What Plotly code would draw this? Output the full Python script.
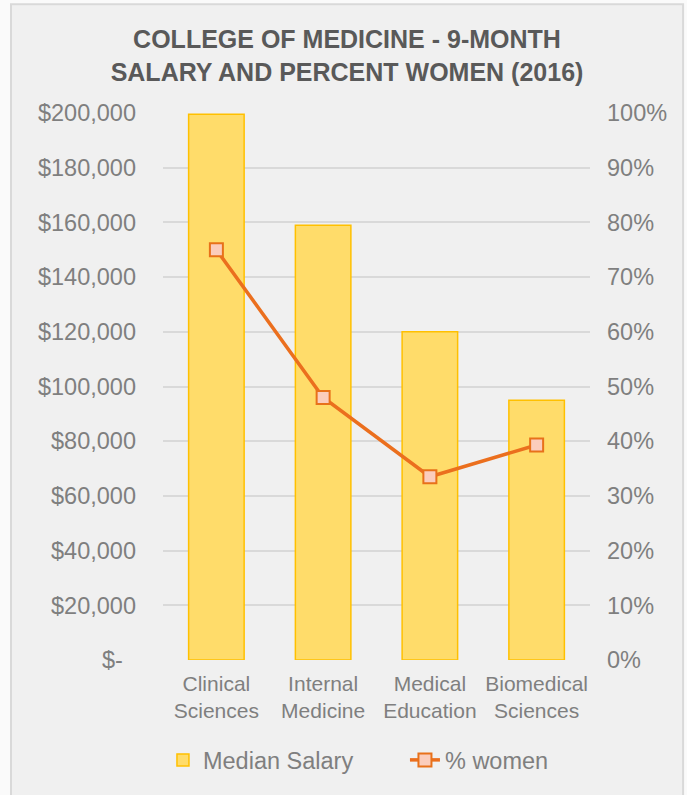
import plotly.graph_objects as go

categories = ["Clinical<br>Sciences", "Internal<br>Medicine", "Medical<br>Education", "Biomedical<br>Sciences"]
median_salary = [199500, 159000, 120000, 95000]
pct_women = [0.75, 0.48, 0.335, 0.393]
left_tickvals = [0, 20000, 40000, 60000, 80000, 100000, 120000, 140000, 160000, 180000, 200000]
left_ticktext = ["$-\u00a0\u00a0", "$20,000", "$40,000", "$60,000", "$80,000", "$100,000",
                 "$120,000", "$140,000", "$160,000", "$180,000", "$200,000"]
right_tickvals = [i / 10 for i in range(11)]
right_ticktext = [f"{i*10}%" for i in range(11)]

FONT = "Liberation Sans, Arial, sans-serif"
TITLE_GRAY = "#595959"
TICK_GRAY = "#7F7F7F"

fig = go.Figure()
fig.add_trace(go.Bar(
    x=categories, y=median_salary, name="Median Salary",
    marker=dict(color="#FFDC6A", line=dict(color="#FFC000", width=1.5)),
    width=0.52,
))
fig.add_trace(go.Scatter(
    x=categories, y=pct_women, name="% women", yaxis="y2",
    mode="lines+markers",
    line=dict(color="#EB6F1E", width=3.5),
    marker=dict(symbol="square", size=13, color="#FBCDBC",
                line=dict(color="#E8711A", width=2)),
))

# chart frame (background box with thin border)
fig.add_shape(type="rect", xref="paper", yref="paper",
              x0=-0.356, x1=1.218, y0=-0.26, y1=1.199,
              fillcolor="#F0F0F0", line=dict(color="#D9D9D9", width=2),
              layer="below")

fig.update_layout(
    width=687, height=795,
    paper_bgcolor="#FAFAFA", plot_bgcolor="rgba(0,0,0,0)",
    margin=dict(l=163, r=97, t=113, b=135),
    font=dict(family=FONT, color=TICK_GRAY, size=21),
    title=dict(
        text="<b>COLLEGE OF MEDICINE - 9-MONTH<br>SALARY AND PERCENT WOMEN (2016)</b>",
        x=347 / 687, xref="container", xanchor="center",
        y=1 - 48 / 795, yref="container", yanchor="top",
        font=dict(family=FONT, size=25, color=TITLE_GRAY),
    ),
    xaxis=dict(showgrid=False, showline=False, ticks="",
               tickfont=dict(size=21, color=TICK_GRAY), ticklabelstandoff=9),
    yaxis=dict(range=[0, 200000], tickvals=left_tickvals, ticktext=left_ticktext,
               showgrid=True, gridcolor="#D9D9D9", gridwidth=1.5,
               zeroline=False, showline=False, ticks="",
               tickfont=dict(size=23.5, color=TICK_GRAY), ticklabelstandoff=26),
    yaxis2=dict(range=[0, 1], tickvals=right_tickvals, ticktext=right_ticktext,
                overlaying="y", side="right", showgrid=False, zeroline=False,
                showline=False, ticks="", tickfont=dict(size=23.5, color=TICK_GRAY),
                ticklabelstandoff=16),
    legend=dict(orientation="h", x=-0.0001, xanchor="left", y=-0.183, yanchor="middle",
                font=dict(size=23.5, color=TICK_GRAY), bgcolor="rgba(0,0,0,0)",
                entrywidth=197),
    bargap=0.48,
    showlegend=True,
)

fig.write_html("out.html", config={"displayModeBar": False},
               post_script="document.body.style.margin='0';")
